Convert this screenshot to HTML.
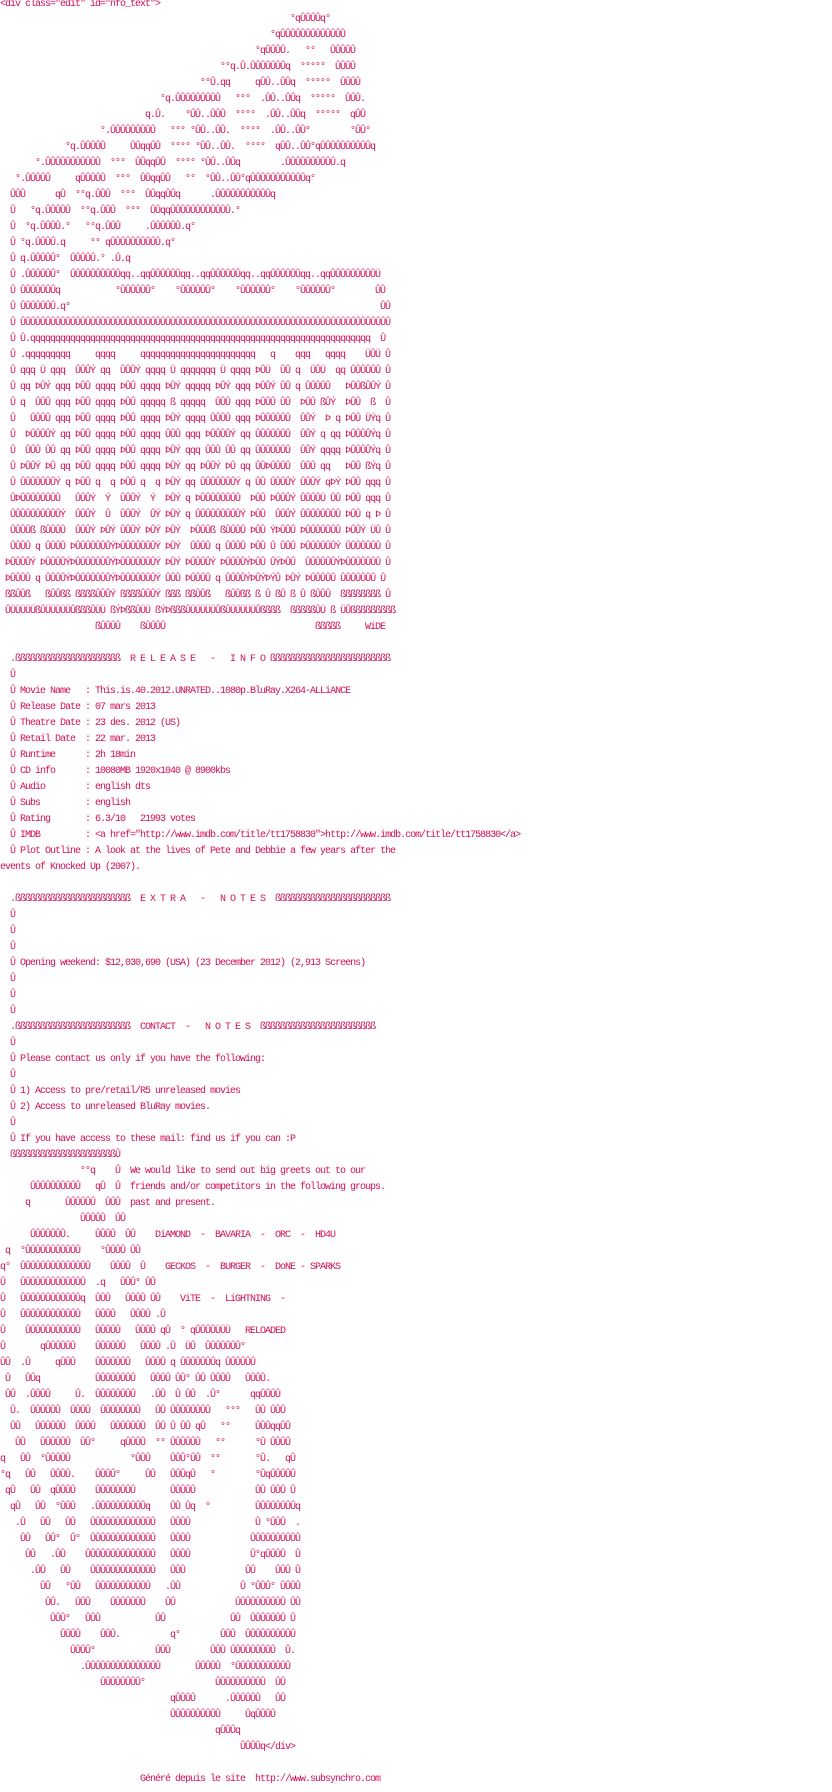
<!DOCTYPE html>
<html><head><meta charset="utf-8">
<style>
html,body{margin:0;padding:0;background:#fff;}
body{width:832px;height:1792px;position:relative;overflow:hidden;font-family:"Liberation Mono",monospace;font-size:10px;letter-spacing:-1px;color:#d0105a;}
div{position:absolute;left:0;height:16px;line-height:16px;width:832px;}
span{position:absolute;white-space:pre;top:0;}
</style></head><body>
<div style="top:-3px"><span style="left:0">&lt;div class="edit" id="nfo_text"&gt;</span></div>
<div style="top:12px"><span style="left:290px">°qÛÛÛÛq°</span></div>
<div style="top:28px"><span style="left:270px">°qÛÛÛÛÛÛÛÛÛÛÛÛÛ</span></div>
<div style="top:44px"><span style="left:255px">°qÛÛÛÛ.</span><span style="left:305px">°°</span><span style="left:330px">ÛÛÛÛÛ</span></div>
<div style="top:60px"><span style="left:220px">°°q.Û.ÛÛÛÛÛÛÛq</span><span style="left:300px">°°°°°</span><span style="left:335px">ÛÛÛÛ</span></div>
<div style="top:76px"><span style="left:200px">°°Û.qq</span><span style="left:255px">qÛÛ..ÛÛq</span><span style="left:305px">°°°°°</span><span style="left:340px">ÛÛÛÛ</span></div>
<div style="top:92px"><span style="left:160px">°q.ÛÛÛÛÛÛÛÛÛ</span><span style="left:235px">°°°</span><span style="left:260px">.ÛÛ..ÛÛq</span><span style="left:310px">°°°°°</span><span style="left:345px">ÛÛÛ.</span></div>
<div style="top:108px"><span style="left:145px">q.Û.</span><span style="left:185px">°ÛÛ..ÛÛÛ</span><span style="left:235px">°°°°</span><span style="left:265px">.ÛÛ..ÛÛq</span><span style="left:315px">°°°°°</span><span style="left:350px">qÛÛ</span></div>
<div style="top:124px"><span style="left:100px">°.ÛÛÛÛÛÛÛÛÛ</span><span style="left:170px">°°°</span><span style="left:190px">°ÛÛ..ÛÛ.</span><span style="left:240px">°°°°</span><span style="left:270px">.ÛÛ..ÛÛ°</span><span style="left:350px">°ÛÛ°</span></div>
<div style="top:140px"><span style="left:65px">°q.ÛÛÛÛÛ</span><span style="left:130px">ÛÛqqÛÛ</span><span style="left:170px">°°°°</span><span style="left:195px">°ÛÛ..ÛÛ.</span><span style="left:245px">°°°°</span><span style="left:275px">qÛÛ..ÛÛ°qÛÛÛÛÛÛÛÛÛÛq</span></div>
<div style="top:156px"><span style="left:35px">°.ÛÛÛÛÛÛÛÛÛÛÛ</span><span style="left:110px">°°°</span><span style="left:135px">ÛÛqqÛÛ</span><span style="left:175px">°°°°</span><span style="left:200px">°ÛÛ..ÛÛq</span><span style="left:280px">.ÛÛÛÛÛÛÛÛÛÛ.q</span></div>
<div style="top:172px"><span style="left:15px">°.ÛÛÛÛÛ</span><span style="left:75px">qÛÛÛÛÛ</span><span style="left:115px">°°°</span><span style="left:140px">ÛÛqqÛÛ</span><span style="left:185px">°°</span><span style="left:205px">°ÛÛ..ÛÛ°qÛÛÛÛÛÛÛÛÛÛÛq°</span></div>
<div style="top:188px"><span style="left:10px">ÛÛÛ</span><span style="left:55px">qÛ</span><span style="left:75px">°°q.ÛÛÛ</span><span style="left:120px">°°°</span><span style="left:145px">ÛÛqqÛÛq</span><span style="left:210px">.ÛÛÛÛÛÛÛÛÛÛÛq</span></div>
<div style="top:204px"><span style="left:10px">Û</span><span style="left:30px">°q.ÛÛÛÛÛ</span><span style="left:80px">°°q.ÛÛÛ</span><span style="left:125px">°°°</span><span style="left:150px">ÛÛqqÛÛÛÛÛÛÛÛÛÛÛÛ.°</span></div>
<div style="top:220px"><span style="left:10px">Û</span><span style="left:25px">°q.ÛÛÛÛ.°</span><span style="left:85px">°°q.ÛÛÛ</span><span style="left:145px">.ÛÛÛÛÛÛ.q°</span></div>
<div style="top:236px"><span style="left:10px">Û</span><span style="left:20px">°q.ÛÛÛÛ.q</span><span style="left:90px">°°</span><span style="left:105px">qÛÛÛÛÛÛÛÛÛÛ.q°</span></div>
<div style="top:252px"><span style="left:10px">Û</span><span style="left:20px">q.ÛÛÛÛÛ°</span><span style="left:70px">ÛÛÛÛÛ.°</span><span style="left:110px">.Û.q</span></div>
<div style="top:268px"><span style="left:10px">Û</span><span style="left:20px">.ÛÛÛÛÛÛ°</span><span style="left:70px">ÛÛÛÛÛÛÛÛÛÛqq..qqÛÛÛÛÛÛqq..qqÛÛÛÛÛÛqq..qqÛÛÛÛÛÛqq..qqÛÛÛÛÛÛÛÛÛÜ</span></div>
<div style="top:284px"><span style="left:10px">Û</span><span style="left:20px">ÛÛÛÛÛÛÛq</span><span style="left:115px">°ÛÛÛÛÛÛ°</span><span style="left:175px">°ÛÛÛÛÛÛ°</span><span style="left:235px">°ÛÛÛÛÛÛ°</span><span style="left:295px">°ÛÛÛÛÛÛ°</span><span style="left:375px">ÛÛ</span></div>
<div style="top:300px"><span style="left:10px">Û</span><span style="left:20px">ÛÛÛÛÛÛÛ.q°</span><span style="left:380px">ÛÛ</span></div>
<div style="top:316px"><span style="left:10px">Û ÛÛÛÛÛÛÛÛÛÛÛÛÛÛÛÛÛÛÛÛÛÛÛÛÛÛÛÛÛÛÛÛÛÛÛÛÛÛÛÛÛÛÛÛÛÛÛÛÛÛÛÛÛÛÛÛÛÛÛÛÛÛÛÛÛÛÛÛÛÛÛÛÛÛ</span></div>
<div style="top:332px"><span style="left:10px">Û Û.qqqqqqqqqqqqqqqqqqqqqqqqqqqqqqqqqqqqqqqqqqqqqqqqqqqqqqqqqqqqqqqqqqqq  Û</span></div>
<div style="top:348px"><span style="left:10px">Û</span><span style="left:20px">.qqqqqqqqq</span><span style="left:95px">qqqq</span><span style="left:140px">qqqqqqqqqqqqqqqqqqqqqqq</span><span style="left:270px">q</span><span style="left:295px">qqq</span><span style="left:325px">qqqq</span><span style="left:365px">ÜÛÜ Û</span></div>
<div style="top:364px"><span style="left:10px">Û qqq Ü qqq  ÛÛÛÝ qq  ÛÛÛÝ qqqq Ü qqqqqqq Ü qqqq ÞÛÜ  ÛÛ q  ÜÛÜ  qq ÛÛÛÛÛÛ Û</span></div>
<div style="top:380px"><span style="left:10px">Û qq ÞÛÝ qqq ÞÛÛ qqqq ÞÛÛ qqqq ÞÛÝ qqqqq ÞÛÝ qqq ÞÛÛÝ ÛÛ q ÛÛÛÛÛ   ÞÛÛßÛÛÝ Û</span></div>
<div style="top:396px"><span style="left:10px">Û q  ÛÛÛ qqq ÞÛÛ qqqq ÞÛÛ qqqqq ß qqqqq  ÛÛÛ qqq ÞÛÛÛ ÛÛ  ÞÛÛ ßÛÝ  ÞÛÛ  ß  Û</span></div>
<div style="top:412px"><span style="left:10px">Û   ÛÛÛÛ qqq ÞÛÛ qqqq ÞÛÛ qqqq ÞÛÝ qqqq ÛÛÛÛ qqq ÞÛÛÛÛÛÛ  ÛÛÝ  Þ q ÞÛÛ ÜÝq Û</span></div>
<div style="top:428px"><span style="left:10px">Û  ÞÛÛÛÛÝ qq ÞÛÛ qqqq ÞÛÛ qqqq ÛÛÛ qqq ÞÛÛÛÛÝ qq ÛÛÛÛÛÛÛ  ÛÛÝ q qq ÞÛÛÛÛÝq Û</span></div>
<div style="top:444px"><span style="left:10px">Û  ÛÛÛ ÛÛ qq ÞÛÛ qqqq ÞÛÛ qqqq ÞÛÝ qqq ÛÛÛ ÛÛ qq ÛÛÛÛÛÛÛ  ÛÛÝ qqqq ÞÛÛÛÛÝq Û</span></div>
<div style="top:460px"><span style="left:10px">Û ÞÛÛÝ ÞÛ qq ÞÛÛ qqqq ÞÛÛ qqqq ÞÛÝ qq ÞÛÛÝ ÞÛ qq ÛÛÞÛÛÛÛ  ÛÛÛ qq   ÞÛÛ ßÝq Û</span></div>
<div style="top:476px"><span style="left:10px">Û ÛÛÛÛÛÛÛÝ q ÞÛÛ q  q ÞÛÛ q  q ÞÛÝ qq ÛÛÛÛÛÛÛÝ q ÛÛ ÛÛÛÛÝ ÛÛÛÝ qÞÝ ÞÛÛ qqq Û</span></div>
<div style="top:492px"><span style="left:10px">ÛÞÛÛÛÛÛÛÛÛ   ÛÛÛÝ  Ý  ÛÛÛÝ  Ý  ÞÛÝ q ÞÛÛÛÛÛÛÛÛ  ÞÛÛ ÞÛÛÛÝ ÛÛÛÛÜ ÛÛ ÞÛÛ qqq Û</span></div>
<div style="top:508px"><span style="left:10px">ÛÛÛÛÛÛÛÛÛÛÝ  ÛÛÛÝ  Û  ÛÛÛÝ  ÛÝ ÞÛÝ q ÛÛÛÛÛÛÛÛÛÝ ÞÛÛ  ÛÛÛÝ ÛÛÛÛÛÛÛÛ ÞÛÛ q Þ Û</span></div>
<div style="top:524px"><span style="left:10px">ÛÛÛÛß ßÛÛÛÛ  ÛÛÛÝ ÞÛÝ ÛÛÛÝ ÞÛÝ ÞÛÝ  ÞÛÛÛß ßÛÛÛÛ ÞÛÛ ÝÞÛÛÛ ÞÛÛÛÛÛÛÛ ÞÛÛÝ ÜÛ Û</span></div>
<div style="top:540px"><span style="left:10px">ÛÛÛÛ q ÛÛÛÛ ÞÛÛÛÛÛÛÛÝÞÛÛÛÛÛÛÛÝ ÞÛÝ  ÛÛÛÛ q ÛÛÛÛ ÞÛÛ Û ÛÛÛ ÞÛÛÛÛÛÛÝ ÛÛÛÛÛÛÛ Û</span></div>
<div style="top:556px"><span style="left:5px">ÞÛÛÛÛÝ ÞÛÛÛÛÝÞÛÛÛÛÛÛÛÝÞÛÛÛÛÛÛÛÝ ÞÛÝ ÞÛÛÛÛÝ ÞÛÛÛÛÝÞÛÛ ÛÝÞÛÛ  ÛÛÛÛÛÛÝÞÛÛÛÛÛÛÛ Û</span></div>
<div style="top:572px"><span style="left:5px">ÞÛÛÛÛ q ÛÛÛÛÝÞÛÛÛÛÛÛÛÝÞÛÛÛÛÛÛÛÝ ÛÛÛ ÞÛÛÛÛ q ÛÛÛÛÝÞÛÝÞÝÛ ÞÛÝ ÞÛÛÛÛÛ ÛÛÛÛÛÛÛ Û</span></div>
<div style="top:588px"><span style="left:5px">ßßÛÛß   ßÛÛßß ßßßßÛÛÛÝ ßßßßÛÛÛÝ ßßß ßßÛÛß   ßÛÛßß ß Û ßÛ ß Û ßÛÛÛ  ßßßßßßßß Û</span></div>
<div style="top:604px"><span style="left:5px">ÛÜÜÜÜÜßÛÜÜÜÜÜÛßßßÛÜÜ ßÝÞßßÛÜÜ ßÝÞßßßÛÜÜÜÜÜÛßÛÜÜÜÜÜÛßßßß  ßßßßßÛÜ ß ÜÛßßßßßßßßß</span></div>
<div style="top:620px"><span style="left:95px">ßÛÛÛÛ</span><span style="left:140px">ßÛÛÛÛ</span><span style="left:315px">ßßßßß</span><span style="left:365px">WiDE</span></div>
<div style="top:652px"><span style="left:10px">.ßßßßßßßßßßßßßßßßßßßßß  R E L E A S E   -   I N F O ßßßßßßßßßßßßßßßßßßßßßßßß</span></div>
<div style="top:668px"><span style="left:10px">Û</span></div>
<div style="top:684px"><span style="left:10px">Û Movie Name   : This.is.40.2012.UNRATED..1080p.BluRay.X264-ALLiANCE</span></div>
<div style="top:700px"><span style="left:10px">Û Release Date : 07 mars 2013</span></div>
<div style="top:716px"><span style="left:10px">Û Theatre Date : 23 des. 2012 (US)</span></div>
<div style="top:732px"><span style="left:10px">Û Retail Date  : 22 mar. 2013</span></div>
<div style="top:748px"><span style="left:10px">Û Runtime      : 2h 18min</span></div>
<div style="top:764px"><span style="left:10px">Û CD info      : 10080MB 1920x1040 @ 8900kbs</span></div>
<div style="top:780px"><span style="left:10px">Û Audio        : english dts</span></div>
<div style="top:796px"><span style="left:10px">Û Subs         : english</span></div>
<div style="top:812px"><span style="left:10px">Û Rating       : 6.3/10   21993 votes</span></div>
<div style="top:828px"><span style="left:10px">Û IMDB         : &lt;a href="http://www.imdb.com/title/tt1758830"&gt;http://www.imdb.com/title/tt1758830&lt;/a&gt;</span></div>
<div style="top:844px"><span style="left:10px">Û Plot Outline : A look at the lives of Pete and Debbie a few years after the</span></div>
<div style="top:860px"><span style="left:0">events of Knocked Up (2007).</span></div>
<div style="top:892px"><span style="left:10px">.ßßßßßßßßßßßßßßßßßßßßßßß  E X T R A   -   N O T E S  ßßßßßßßßßßßßßßßßßßßßßßß</span></div>
<div style="top:908px"><span style="left:10px">Û</span></div>
<div style="top:924px"><span style="left:10px">Û</span></div>
<div style="top:940px"><span style="left:10px">Û</span></div>
<div style="top:956px"><span style="left:10px">Û Opening weekend: $12,030,690 (USA) (23 December 2012) (2,913 Screens)</span></div>
<div style="top:972px"><span style="left:10px">Û</span></div>
<div style="top:988px"><span style="left:10px">Û</span></div>
<div style="top:1004px"><span style="left:10px">Û</span></div>
<div style="top:1020px"><span style="left:10px">.ßßßßßßßßßßßßßßßßßßßßßßß  CONTACT  -   N O T E S  ßßßßßßßßßßßßßßßßßßßßßßß</span></div>
<div style="top:1036px"><span style="left:10px">Û</span></div>
<div style="top:1052px"><span style="left:10px">Û Please contact us only if you have the following:</span></div>
<div style="top:1068px"><span style="left:10px">Û</span></div>
<div style="top:1084px"><span style="left:10px">Û 1) Access to pre/retail/R5 unreleased movies</span></div>
<div style="top:1100px"><span style="left:10px">Û 2) Access to unreleased BluRay movies.</span></div>
<div style="top:1116px"><span style="left:10px">Û</span></div>
<div style="top:1132px"><span style="left:10px">Û If you have access to these mail: find us if you can :P</span></div>
<div style="top:1148px"><span style="left:10px">ßßßßßßßßßßßßßßßßßßßßßÛ</span></div>
<div style="top:1164px"><span style="left:80px">°°q</span><span style="left:115px">Û</span><span style="left:130px">We would like to send out big greets out to our</span></div>
<div style="top:1180px"><span style="left:30px">ÛÛÛÛÛÛÛÛÛÛ</span><span style="left:95px">qÛ</span><span style="left:115px">Û</span><span style="left:130px">friends and/or competitors in the following groups.</span></div>
<div style="top:1196px"><span style="left:25px">q</span><span style="left:65px">ÛÛÛÛÛÛ</span><span style="left:105px">ÛÛÛ</span><span style="left:130px">past and present.</span></div>
<div style="top:1212px"><span style="left:80px">ÛÛÛÛÛ</span><span style="left:115px">ÛÛ</span></div>
<div style="top:1228px"><span style="left:30px">ÛÛÛÛÛÛÛ.</span><span style="left:95px">ÛÛÛÛ</span><span style="left:125px">ÛÛ</span><span style="left:155px">DiAMOND  -  BAVARIA  -  ORC  -  HD4U</span></div>
<div style="top:1244px"><span style="left:5px">q</span><span style="left:20px">°ÛÛÛÛÛÛÛÛÛÛÛ</span><span style="left:100px">°ÛÛÛÛ ÛÛ</span></div>
<div style="top:1260px"><span style="left:0">q°</span><span style="left:20px">ÛÛÛÛÛÛÛÛÛÛÛÛÛÛ</span><span style="left:110px">ÛÛÛÛ</span><span style="left:140px">Û</span><span style="left:165px">GECKOS  -  BURGER  -  DoNE - SPARKS</span></div>
<div style="top:1276px"><span style="left:0">Û</span><span style="left:20px">ÛÛÛÛÛÛÛÛÛÛÛÛÛ</span><span style="left:95px">.q</span><span style="left:120px">ÛÛÛ° ÛÛ</span></div>
<div style="top:1292px"><span style="left:0">Û</span><span style="left:20px">ÛÛÛÛÛÛÛÛÛÛÛÛq</span><span style="left:95px">ÛÛÛ</span><span style="left:125px">ÛÛÛÛ ÛÛ</span><span style="left:180px">ViTE  -  LiGHTNING  -</span></div>
<div style="top:1308px"><span style="left:0">Û</span><span style="left:20px">ÛÛÛÛÛÛÛÛÛÛÛÛ</span><span style="left:95px">ÛÛÛÛ</span><span style="left:130px">ÛÛÛÛ .Û</span></div>
<div style="top:1324px"><span style="left:0">Û</span><span style="left:25px">ÛÛÛÛÛÛÛÛÛÛÛ</span><span style="left:95px">ÛÛÛÛÛ</span><span style="left:135px">ÛÛÛÛ qÛ</span><span style="left:180px">°</span><span style="left:190px">qÛÛÛÛÜÜÜ</span><span style="left:245px">RELOADED</span></div>
<div style="top:1340px"><span style="left:0">Û</span><span style="left:40px">qÛÛÛÛÛÛ</span><span style="left:95px">ÛÛÛÛÛÛ</span><span style="left:140px">ÛÛÛÛ</span><span style="left:165px">.Û</span><span style="left:185px">ÜÛ</span><span style="left:205px">ÛÛÛÛÛÛÛ°</span></div>
<div style="top:1356px"><span style="left:0">ÛÛ</span><span style="left:20px">.Û</span><span style="left:55px">qÛÛÛ</span><span style="left:95px">ÛÛÛÛÛÛÛ</span><span style="left:145px">ÛÛÛÛ</span><span style="left:170px">q</span><span style="left:180px">ÛÛÛÛÛÛÛq</span><span style="left:225px">ÛÛÛÛÛÛ</span></div>
<div style="top:1372px"><span style="left:5px">Û</span><span style="left:25px">ÛÛq</span><span style="left:95px">ÛÛÛÛÛÛÛÛ</span><span style="left:150px">ÛÛÛÛ ÛÛ° ÛÛ ÛÛÛÛ</span><span style="left:245px">ÛÛÛÛ.</span></div>
<div style="top:1388px"><span style="left:5px">ÛÛ</span><span style="left:25px">.ÛÛÛÛ</span><span style="left:75px">Û.</span><span style="left:95px">ÛÛÛÛÛÛÛÛ</span><span style="left:150px">.ÛÛ</span><span style="left:175px">Û ÛÛ</span><span style="left:205px">.Û°</span><span style="left:250px">qqÛÛÛÛ</span></div>
<div style="top:1404px"><span style="left:10px">Û.</span><span style="left:30px">ÛÛÛÛÛÛ</span><span style="left:70px">ÛÛÛÛ</span><span style="left:100px">ÛÛÛÛÛÛÛÛ</span><span style="left:155px">ÛÛ ÛÛÛÛÛÛÛÛ</span><span style="left:225px">°°°</span><span style="left:255px">ÛÛ ÛÛÛ</span></div>
<div style="top:1420px"><span style="left:10px">ÛÛ</span><span style="left:35px">ÛÛÛÛÛÛ</span><span style="left:75px">ÛÛÛÛ</span><span style="left:110px">ÛÛÛÛÛÛÛ</span><span style="left:155px">ÛÛ Û ÛÛ qÛ</span><span style="left:220px">°°</span><span style="left:255px">ÛÛÛqqÛÛ</span></div>
<div style="top:1436px"><span style="left:15px">ÛÛ</span><span style="left:40px">ÛÛÛÛÛÛ</span><span style="left:80px">ÛÛ°</span><span style="left:120px">qÛÛÛÛ</span><span style="left:155px">°° ÛÛÛÛÛÛ</span><span style="left:215px">°°</span><span style="left:255px">°Û ÛÛÛÛ</span></div>
<div style="top:1452px"><span style="left:0">q</span><span style="left:20px">ÛÛ</span><span style="left:40px">°ÛÛÛÛÛ</span><span style="left:130px">°ÛÛÛ</span><span style="left:170px">ÛÛÛ°ÛÛ</span><span style="left:210px">°°</span><span style="left:255px">°Û.</span><span style="left:285px">qÛ</span></div>
<div style="top:1468px"><span style="left:0">°q</span><span style="left:25px">ÛÛ</span><span style="left:50px">ÛÛÛÛ.</span><span style="left:95px">ÛÛÛÛ°</span><span style="left:145px">ÛÛ</span><span style="left:170px">ÛÛÛqÛ</span><span style="left:210px">°</span><span style="left:255px">°ÛqÛÛÛÛÛ</span></div>
<div style="top:1484px"><span style="left:5px">qÛ</span><span style="left:30px">ÛÛ</span><span style="left:50px">qÛÛÛÛ</span><span style="left:95px">ÛÛÛÛÛÛÛÛ</span><span style="left:170px">ÛÛÛÛÛ</span><span style="left:255px">ÛÛ ÛÛÛ Û</span></div>
<div style="top:1500px"><span style="left:10px">qÛ</span><span style="left:35px">ÛÛ</span><span style="left:55px">°ÛÛÛ</span><span style="left:90px">.ÛÛÛÛÛÛÛÛÛÛq</span><span style="left:170px">ÛÛ Ûq</span><span style="left:205px">°</span><span style="left:255px">ÛÛÛÛÛÛÛÛq</span></div>
<div style="top:1516px"><span style="left:15px">.Û</span><span style="left:40px">ÛÛ</span><span style="left:65px">ÛÛ</span><span style="left:90px">ÛÛÛÛÛÛÛÛÛÛÛÛÛ</span><span style="left:170px">ÛÛÛÛ</span><span style="left:255px">Û °ÛÛÛ</span><span style="left:295px">.</span></div>
<div style="top:1532px"><span style="left:20px">ÛÛ</span><span style="left:45px">ÛÛ°</span><span style="left:70px">Û°</span><span style="left:90px">ÛÛÛÛÛÛÛÛÛÛÛÛÛ</span><span style="left:170px">ÛÛÛÛ</span><span style="left:250px">ÛÛÛÛÛÛÛÛÛÛ</span></div>
<div style="top:1548px"><span style="left:25px">ÛÛ</span><span style="left:50px">.ÛÛ</span><span style="left:85px">ÛÛÛÛÛÛÛÛÛÛÛÛÛÛ</span><span style="left:170px">ÛÛÛÛ</span><span style="left:250px">Û°qÛÛÛÛ</span><span style="left:295px">Û</span></div>
<div style="top:1564px"><span style="left:30px">.ÛÛ</span><span style="left:60px">ÛÛ</span><span style="left:90px">ÛÛÛÛÛÛÛÛÛÛÛÛÛ</span><span style="left:170px">ÛÛÛ</span><span style="left:245px">ÛÛ</span><span style="left:275px">ÛÛÛ Û</span></div>
<div style="top:1580px"><span style="left:40px">ÛÛ</span><span style="left:65px">°ÛÛ</span><span style="left:95px">ÛÛÛÛÛÛÛÛÛÛÛ</span><span style="left:165px">.ÛÛ</span><span style="left:240px">Û °ÛÛÛ° ÛÛÛÛ</span></div>
<div style="top:1596px"><span style="left:45px">ÛÛ.</span><span style="left:75px">ÛÛÛ</span><span style="left:110px">ÛÛÛÛÛÛÛ</span><span style="left:165px">ÛÛ</span><span style="left:235px">ÛÛÛÛÛÛÛÛÛÛ ÛÛ</span></div>
<div style="top:1612px"><span style="left:50px">ÛÛÛ°</span><span style="left:85px">ÛÛÛ</span><span style="left:155px">ÛÛ</span><span style="left:230px">ÛÛ</span><span style="left:250px">ÛÛÛÛÛÛÛ</span><span style="left:290px">Û</span></div>
<div style="top:1628px"><span style="left:60px">ÛÛÛÛ</span><span style="left:100px">ÛÛÛ.</span><span style="left:170px">q°</span><span style="left:220px">ÛÛÛ</span><span style="left:245px">ÛÛÛÛÛÛÛÛÛÛ</span></div>
<div style="top:1644px"><span style="left:70px">ÛÛÛÛ°</span><span style="left:155px">ÛÛÛ</span><span style="left:210px">ÛÛÛ ÛÛÛÛÛÛÛÛÛ</span><span style="left:285px">Û.</span></div>
<div style="top:1660px"><span style="left:80px">.ÛÛÛÛÛÛÛÛÛÛÛÛÛÛÛ</span><span style="left:195px">ÛÛÛÛÛ</span><span style="left:230px">°ÛÛÛÛÛÛÛÛÛÛÛ</span></div>
<div style="top:1676px"><span style="left:100px">ÛÛÛÛÛÛÛÛ°</span><span style="left:215px">ÛÛÛÛÛÛÛÛÛÛ</span><span style="left:275px">ÛÛ</span></div>
<div style="top:1692px"><span style="left:170px">qÛÛÛÛ</span><span style="left:225px">.ÛÛÛÛÛÛ</span><span style="left:275px">ÛÛ</span></div>
<div style="top:1708px"><span style="left:170px">ÛÛÛÛÛÛÛÛÛÛ</span><span style="left:245px">ÛqÛÛÛÛ</span></div>
<div style="top:1724px"><span style="left:215px">qÛÛÛq</span></div>
<div style="top:1740px"><span style="left:240px">ÛÛÛÛq&lt;/div&gt;</span></div>
<div style="top:1772px"><span style="left:140px">Généré depuis le site  http://www.subsynchro.com</span></div>
</body></html>
